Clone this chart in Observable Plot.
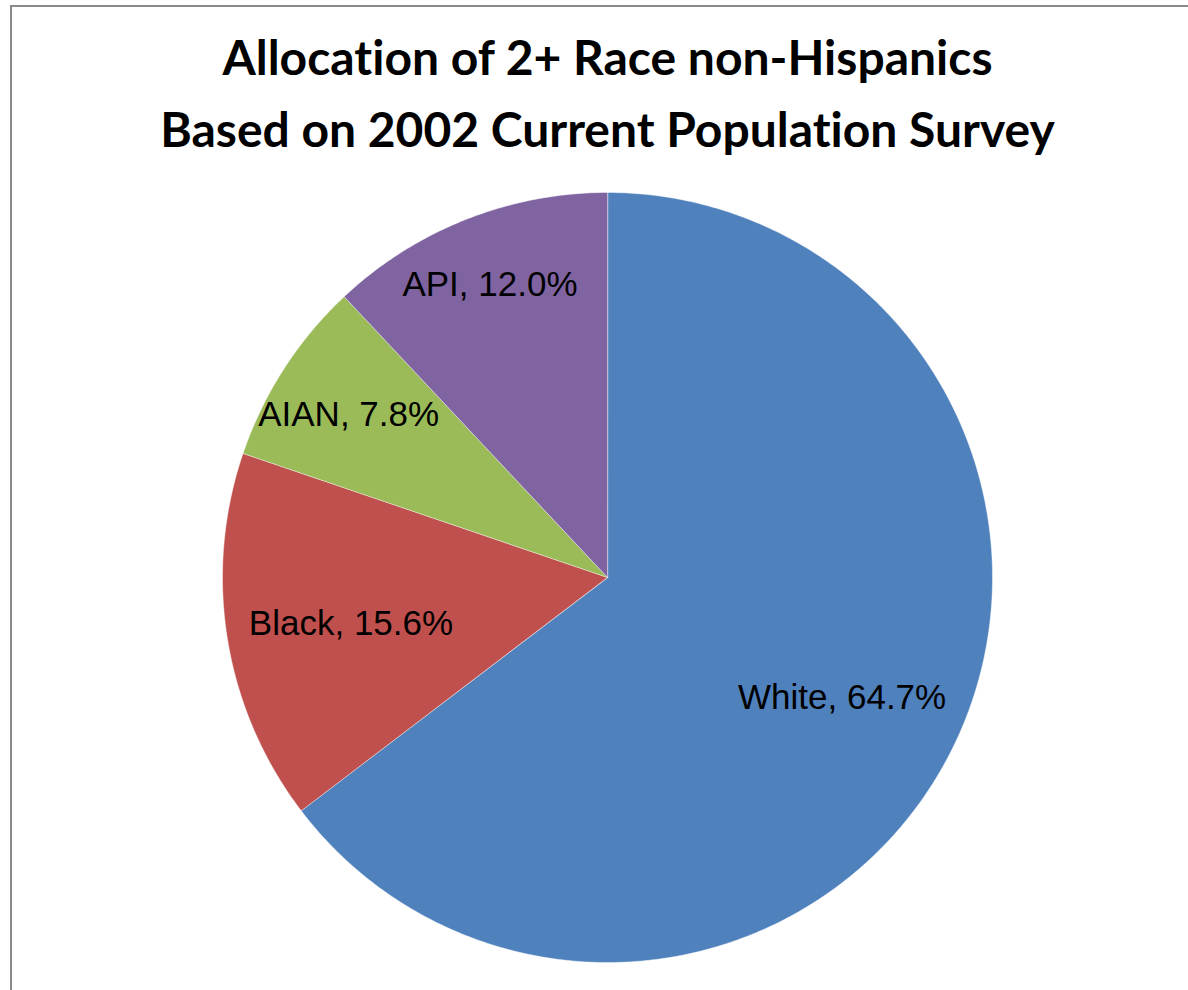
<!DOCTYPE html>
<html><head><meta charset="utf-8">
<script src="https://cdn.jsdelivr.net/npm/d3@7"></script>
<script src="https://cdn.jsdelivr.net/npm/@observablehq/plot@0.6"></script>
<style>
html,body{margin:0;padding:0;background:#fff;overflow:hidden;width:1188px;height:990px}
#wrap{position:relative;width:1188px;height:990px;overflow:hidden}
#frame{position:absolute;left:10px;top:5px;width:1300px;height:1100px;border-top:2px solid #8a8a8a;border-left:2px solid #8a8a8a;pointer-events:none;z-index:2}
#title{position:absolute;left:0;top:21px;width:1215px;text-align:center;font-family:Lato,"Open Sans",sans-serif;font-weight:bold;font-size:48px;line-height:72px;color:#000;white-space:nowrap;font-variant-ligatures:none;font-feature-settings:"liga" 0}
#chart{position:absolute;left:0;top:170px}
</style></head><body>
<div id="wrap">
  <div id="title">Allocation of 2+ Race non-Hispanics<br>Based on 2002 Current Population Survey</div>
  <div id="chart"></div>
  <div id="frame"></div>
</div>
<script>
// ---- data ----
const categories = ["White", "Black", "AIAN", "API"];
const values = [64.7, 15.6, 7.8, 12.0];
const colors = ["#4F81BD", "#C0504D", "#9BBB59", "#8064A2"];

// ---- layout ----
const W = 1188, H = 820;
const cx = 607, cy = 407, R = 385; // pixel centre/radius inside the SVG
const labelRadius = [0.68, 0.675, 0.8, 0.83]; // fraction of radius along each slice bisector

const rows = categories.map((name, i) => ({name, value: values[i]}));
const arcs = d3.pie().sort(null).value(d => d.value)(rows);

// polygon outline of each slice in unit coordinates (y up)
const slicePts = [];
arcs.forEach(a => {
  const name = a.data.name;
  slicePts.push({name, x: 0, y: 0});
  const n = Math.max(2, Math.ceil((a.endAngle - a.startAngle) / (Math.PI / 360)));
  for (let k = 0; k <= n; k++) {
    const t = a.startAngle + (a.endAngle - a.startAngle) * k / n;
    slicePts.push({name, x: Math.sin(t), y: Math.cos(t)});
  }
});

const labels = arcs.map((a, i) => {
  const mid = (a.startAngle + a.endAngle) / 2;
  const rr = labelRadius[i];
  return {
    x: rr * Math.sin(mid),
    y: rr * Math.cos(mid),
    text: `${a.data.name}, ${a.data.value.toFixed(1)}%`
  };
});

const chart = Plot.plot({
  width: W,
  height: H,
  margin: 0,
  style: {background: "none", overflow: "visible"},
  x: {domain: [-cx / R, (W - cx) / R], axis: null},
  y: {domain: [-(H - cy) / R, cy / R], axis: null},
  color: {domain: categories, range: colors},
  marks: [
    Plot.line(slicePts, {
      x: "x", y: "y", z: "name", fill: "name",
      stroke: "#ffffff", strokeWidth: 0.8, strokeOpacity: 0.55,
      curve: "linear-closed"
    }),
    Plot.text(labels, {
      x: "x", y: "y", text: "text",
      fontSize: 35, fontFamily: "'Liberation Sans', Arial, sans-serif",
      fill: "#000", textAnchor: "middle", dy: 4
    })
  ]
});
document.getElementById("chart").appendChild(chart);
</script>
</body></html>
